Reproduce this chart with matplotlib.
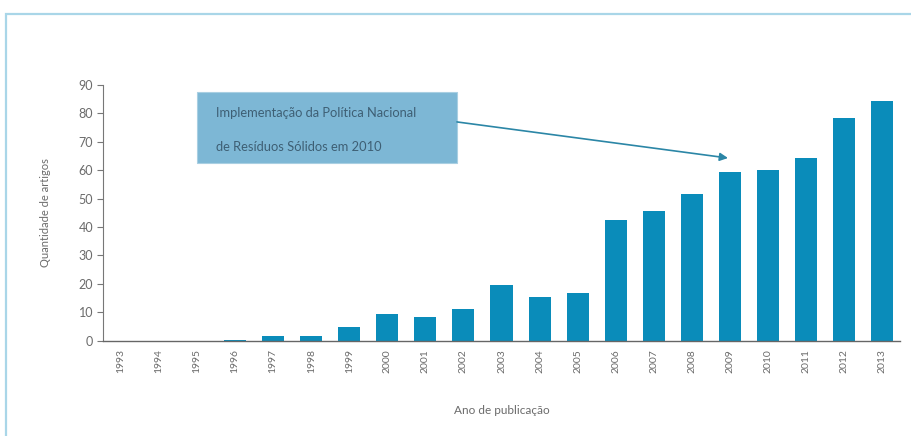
import matplotlib
matplotlib.use("Agg")
import matplotlib.pyplot as plt
from matplotlib.patches import Rectangle

# Artigos publicados por ano
anos = ["1993", "1994", "1995", "1996", "1997", "1998", "1999", "2000", "2001", "2002",
        "2003", "2004", "2005", "2006", "2007", "2008", "2009", "2010", "2011", "2012", "2013"]
artigos = [0, 0, 0, 0.3, 1.8, 1.7, 4.7, 9.4, 8.2, 11.2,
           19.6, 15.3, 16.7, 42.5, 45.6, 51.7, 59.5, 60.1, 64.2, 78.3, 84.4]
yticks = [0, 10, 20, 30, 40, 50, 60, 70, 80, 90]

linha1 = "Implementação da Política Nacional"
linha2 = "de Resíduos Sólidos em 2010"

plt.rcParams["font.family"] = ["Lato", "DejaVu Sans"]
cinza = "#6b6b6b"

fig = plt.figure(figsize=(9.12, 4.36), dpi=100)
fig.patch.set_facecolor("white")

# moldura azul clara em volta do grafico
fig.patches.append(Rectangle((6 / 912, -0.05), 1.0, (436 - 14) / 436 + 0.05,
                             transform=fig.transFigure, fill=False,
                             edgecolor="#a9d6e8", linewidth=1.6))

ax = fig.add_axes([103 / 912, 95.3 / 436, 797 / 912, 255.7 / 436])
x = range(len(anos))
ax.bar(x, artigos, width=0.58, color="#0a8cba")

ax.set_xlim(-0.47, len(anos) - 0.53)
ax.set_ylim(0, 90)
ax.set_yticks(yticks)
ax.set_xticks(list(x))
ax.set_xticklabels(anos, rotation=90, fontsize=7.5, color=cinza)
ax.tick_params(axis="x", length=0, pad=6)
ax.tick_params(axis="y", length=4, width=0.8, color="#777777", labelsize=9,
               labelcolor=cinza, pad=3)

for lado in ["top", "right"]:
    ax.spines[lado].set_visible(False)
ax.spines["left"].set_color("#777777")
ax.spines["left"].set_linewidth(0.8)
ax.spines["bottom"].set_color("#666666")
ax.spines["bottom"].set_linewidth(1.0)

ax.set_ylabel("Quantidade de artigos", fontsize=8, color=cinza, labelpad=20)
ax.set_xlabel("Ano de publicação", fontsize=8.5, color=cinza, labelpad=23)

# caixa com a anotacao da politica nacional
ax.add_patch(Rectangle((2.0, 62.6), 6.83, 25.0, facecolor="#7db7d5",
                       edgecolor="#a9cfe2", linewidth=0.8, zorder=3))
ax.text(2.5, 80.2, linha1, fontsize=9.3, color="#3e5f74", va="center",
        ha="left", zorder=4)
ax.text(2.5, 68.2, linha2, fontsize=9.3, color="#3e5f74", va="center",
        ha="left", zorder=4)
ax.annotate("", xy=(15.95, 64.3), xytext=(8.83, 77.0),
            arrowprops=dict(arrowstyle="-|>", color="#2b86a6", lw=1.2,
                            mutation_scale=12, shrinkA=0, shrinkB=0),
            zorder=4)

fig.savefig("out.png", dpi=100)
